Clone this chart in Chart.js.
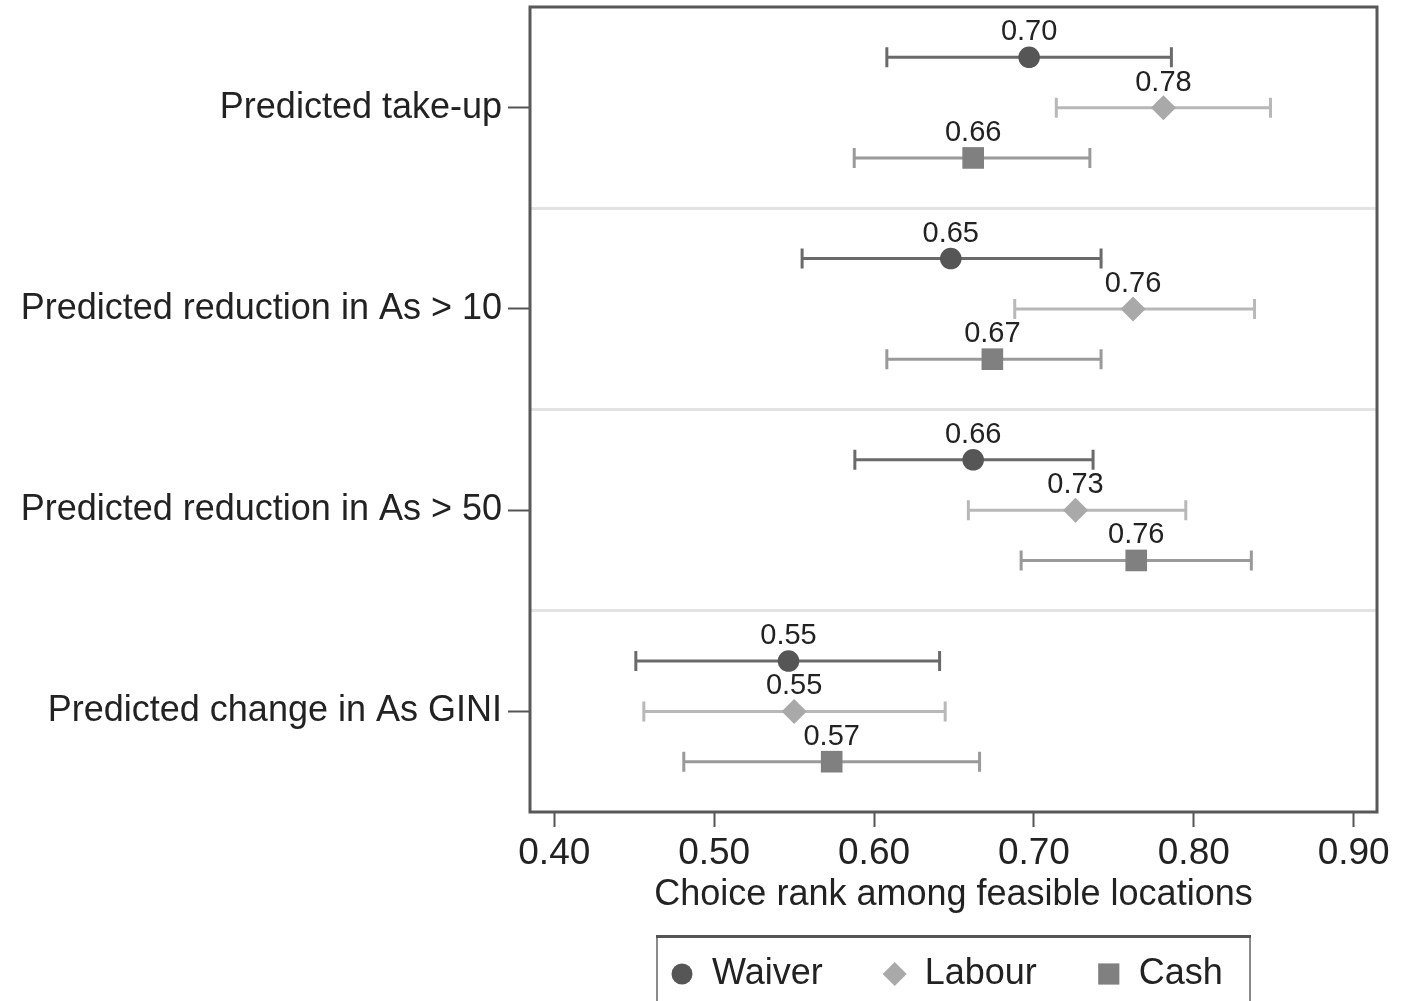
<!DOCTYPE html>
<html><head><meta charset="utf-8">
<script src="https://cdn.jsdelivr.net/npm/chart.js@4.4.0/dist/chart.umd.min.js"></script>
<style>html,body{margin:0;padding:0;background:#fff;overflow:hidden}#wrap{width:1412px;height:1001px;position:relative}</style>
</head><body><div id="wrap"><canvas id="c"></canvas></div>
<script>
// ---- data ----
const categories = ["Predicted take-up", "Predicted reduction in As > 10", "Predicted reduction in As > 50", "Predicted change in As GINI"];
const seriesNames = ["Waiver", "Labour", "Cash"];
const waiverMean = [0.697, 0.648, 0.662, 0.5465];
const waiverLow  = [0.608, 0.555, 0.588, 0.451];
const waiverHigh = [0.786, 0.742, 0.737, 0.641];
const labourMean = [0.781, 0.762, 0.726, 0.550];
const labourLow  = [0.714, 0.688, 0.659, 0.456];
const labourHigh = [0.848, 0.838, 0.795, 0.6445];
const cashMean = [0.662, 0.674, 0.764, 0.5735];
const cashLow  = [0.5876, 0.608, 0.692, 0.481];
const cashHigh = [0.735, 0.742, 0.836, 0.666];
const xTicks = [0.40, 0.50, 0.60, 0.70, 0.80, 0.90];
const xTitle = "Choice rank among feasible locations";

// ---- styling ----
const FONT = "'Liberation Sans', Arial, Helvetica, sans-serif";
const styles = [
  {pointStyle: 'circle', radius: 10.8, color: '#565656', bar: '#6a6a6a'},
  {pointStyle: 'rectRot', radius: 12.5, color: '#a9a9a9', bar: '#b8b8b8'},
  {pointStyle: 'rect', radius: 15.3, color: '#808080', bar: '#9a9a9a'}
];
const means = [waiverMean, labourMean, cashMean];
const lows = [waiverLow, labourLow, cashLow];
const highs = [waiverHigh, labourHigh, cashHigh];

const datasets = seriesNames.map((name, s) => ({
  label: name,
  data: categories.map((c, g) => ({x: means[s][g], y: g * 4 + s + 1})),
  pointStyle: styles[s].pointStyle,
  pointRadius: styles[s].radius,
  pointBackgroundColor: styles[s].color,
  pointBorderWidth: 0,
  showLine: false
}));

const errorBars = {
  id: 'errorBars',
  beforeDatasetsDraw(chart) {
    const ctx = chart.ctx, xs = chart.scales.x;
    ctx.save();
    chart.data.datasets.forEach((ds, s) => {
      const meta = chart.getDatasetMeta(s);
      meta.data.forEach((pt, g) => {
        const x1 = xs.getPixelForValue(lows[s][g]);
        const x2 = xs.getPixelForValue(highs[s][g]);
        const y = pt.y;
        ctx.strokeStyle = styles[s].bar;
        ctx.lineWidth = 3;
        ctx.beginPath();
        ctx.moveTo(x1, y); ctx.lineTo(x2, y);
        ctx.moveTo(x1, y - 10); ctx.lineTo(x1, y + 10);
        ctx.moveTo(x2, y - 10); ctx.lineTo(x2, y + 10);
        ctx.stroke();
      });
    });
    ctx.restore();
  },
  afterDatasetsDraw(chart) {
    const ctx = chart.ctx;
    ctx.save();
    ctx.font = '29px ' + FONT;
    ctx.fillStyle = '#222';
    ctx.textAlign = 'center';
    ctx.textBaseline = 'middle';
    chart.data.datasets.forEach((ds, s) => {
      const meta = chart.getDatasetMeta(s);
      meta.data.forEach((pt, g) => {
        ctx.fillText(means[s][g].toFixed(2), pt.x, pt.y - 25);
      });
    });
    // frame
    const a = chart.chartArea;
    ctx.strokeStyle = '#585858';
    ctx.lineWidth = 3;
    ctx.strokeRect(a.left, a.top, a.right - a.left, a.bottom - a.top);
    ctx.restore();
  },
  afterDraw(chart) {
    const ctx = chart.ctx;
    ctx.save();
    // legend box
    const L = 657, R = 1250, T = 936.5;
    ctx.strokeStyle = '#8a8a8a'; ctx.lineWidth = 2;
    ctx.beginPath();
    ctx.moveTo(L, T); ctx.lineTo(L, 1010);
    ctx.moveTo(R, T); ctx.lineTo(R, 1010);
    ctx.stroke();
    ctx.strokeStyle = '#555'; ctx.lineWidth = 3;
    ctx.beginPath(); ctx.moveTo(L - 1, T); ctx.lineTo(R + 1, T); ctx.stroke();
    ctx.font = '36px ' + FONT;
    ctx.textBaseline = 'middle';
    ctx.textAlign = 'left';
    let x = 682;
    const y = 974;
    seriesNames.forEach((name, s) => {
      ctx.fillStyle = styles[s].color;
      const r = s === 0 ? 10.5 : (s === 1 ? 12 : 15);
      Chart.helpers.drawPoint(ctx, {pointStyle: styles[s].pointStyle, radius: r, rotation: 0, borderWidth: 0}, x, y);
      ctx.fillStyle = '#222';
      ctx.fillText(name, x + 30, y);
      x = x + 30 + ctx.measureText(name).width + 72;
    });
    ctx.restore();
  }
};

new Chart(document.getElementById('c'), {
  type: 'scatter',
  data: {datasets},
  plugins: [errorBars],
  options: {
    responsive: true,
    maintainAspectRatio: false,
    animation: false,
    layout: {autoPadding: false, padding: {top: 7, right: 35, left: 0, bottom: 0}},
    plugins: {legend: {display: false}, tooltip: {enabled: false}},
    scales: {
      x: {
        type: 'linear', min: 0.3848, max: 0.9146,
        afterBuildTicks: s => { s.ticks = xTicks.map(v => ({value: v})); },
        afterFit: s => { s.height = 189; },
        ticks: {callback: v => Number(v).toFixed(2), font: {family: FONT, size: 37}, color: '#222', padding: 5, maxRotation: 0, autoSkip: false},
        grid: {drawOnChartArea: false, drawTicks: true, tickLength: 15, tickColor: '#555', tickWidth: 2},
        border: {display: false},
        title: {display: true, text: xTitle, font: {family: FONT, size: 36}, color: '#222', padding: {top: 0, bottom: 84}}
      },
      y: {
        type: 'linear', min: 0, max: 16, reverse: true,
        afterBuildTicks: s => { s.ticks = [2, 4, 6, 8, 10, 12, 14].map(v => ({value: v})); },
        afterFit: s => { s.width = 530; s.paddingTop = 0; s.paddingBottom = 0; },
        ticks: {
          callback: v => (v % 4 === 2 ? categories[(v - 2) / 4] : ''),
          font: {family: FONT, size: 36}, color: '#222', padding: 6, autoSkip: false
        },
        grid: {
          color: c => (c.tick && c.tick.value % 4 === 0) ? '#e3e3e3' : 'rgba(0,0,0,0)',
          lineWidth: 3,
          tickColor: c => (c.tick && c.tick.value % 4 === 2) ? '#555' : 'rgba(0,0,0,0)',
          tickLength: 22, tickWidth: 2
        },
        border: {display: false}
      }
    }
  }
});
</script>
</body></html>
